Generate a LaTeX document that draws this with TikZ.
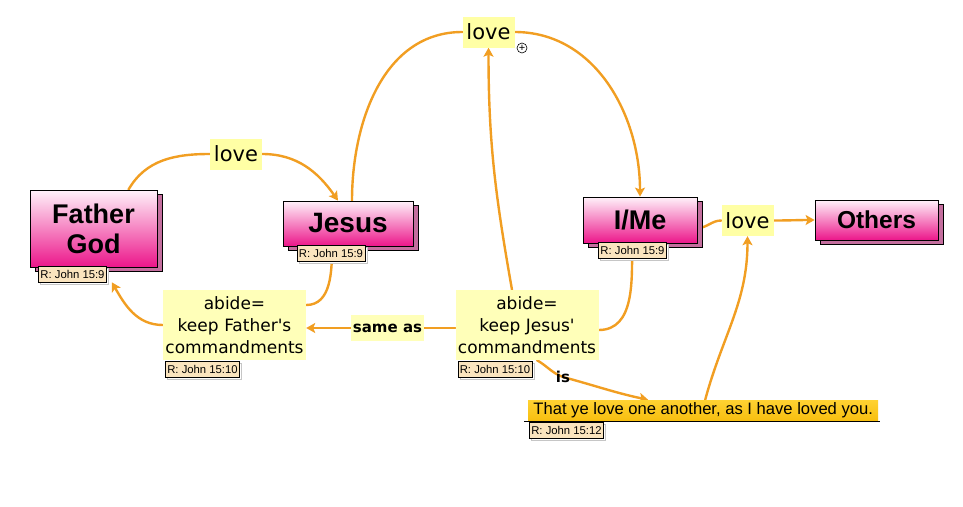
\documentclass[tikz,border=0pt]{standalone}
\usepackage{fontspec}
\setmainfont{Liberation Sans}
\newfontfamily\vfont{DejaVu Sans}
\usetikzlibrary{arrows.meta,shadows,backgrounds}
\definecolor{conncol}{RGB}{241,158,34}
\definecolor{pinktop}{RGB}{255,242,250}
\definecolor{pinkbot}{RGB}{236,22,138}
\definecolor{shadowpink}{RGB}{196,110,158}
\definecolor{loveY}{RGB}{255,255,165}
\definecolor{abY}{RGB}{255,255,185}
\definecolor{tagc}{RGB}{250,228,190}
\definecolor{goldtop}{RGB}{255,210,50}
\definecolor{goldbot}{RGB}{247,190,15}
\tikzset{
  conc/.style={draw=black, line width=0.8pt, top color=pinktop, bottom color=pinkbot,
    copy shadow={shadow xshift=5pt, shadow yshift=-4pt, fill=shadowpink, draw=black, line width=0.6pt},
    font=\bfseries\fontsize{27}{30}\selectfont, align=center, inner sep=2pt},
  lovebox/.style={fill=loveY, font=\vfont\fontsize{21}{24}\selectfont, minimum width=52pt, minimum height=31pt, inner sep=2pt},
  abbox/.style={fill=abY, font=\vfont\fontsize{17}{22}\selectfont, text width=140pt, align=center, minimum height=70pt, inner sep=1.5pt},
  tagbox/.style={draw=black, line width=0.6pt, fill=tagc, font=\fontsize{11.3}{13}\selectfont, minimum height=16pt, inner xsep=2pt, inner ysep=1pt,
    copy shadow={shadow xshift=2pt, shadow yshift=-2pt, fill=white, draw=gray!45, line width=0.5pt}},
  conn/.style={draw=conncol, line width=2.4pt, -, line cap=round},
  arr/.style={-{Stealth[length=9pt,width=10pt,inset=2pt]}},
}
\begin{document}
\begin{tikzpicture}[x=1pt,y=-1pt]
\useasboundingbox (0,0) rectangle (963,506);
% concepts
\node[conc, minimum width=127pt, minimum height=77pt] (fg) at (93.5,228.5) {Father\\God};
\node[conc, minimum width=130pt, minimum height=45pt, font=\bfseries\fontsize{28}{30}\selectfont] (jesus) at (348,223.5) {Jesus};
\node[conc, minimum width=114pt, minimum height=46pt] (ime) at (640,220) {I/Me};
\node[conc, minimum width=123pt, minimum height=40pt, font=\bfseries\fontsize{24.5}{27}\selectfont] (others) at (876.5,220) {Others};
% labels
\node[lovebox] (loveT) at (488.5,32) {love};
\node[lovebox] (loveL) at (236,154) {love};
\node[lovebox] (loveR) at (747.5,220.5) {love};
\node[abbox, minimum width=143pt] (abL) at (234.5,325) {abide=\\keep Father's\\commandments};
\node[abbox, minimum width=142pt] (abR) at (527,325) {abide=\\keep Jesus'\\commandments};
\node[fill=abY, font=\vfont\bfseries\fontsize{15}{18}\selectfont, minimum height=26pt, inner sep=2pt] (sameas) at (387.5,328) {same as};
\node[font=\vfont\bfseries\fontsize{15}{18}\selectfont, inner sep=1pt] (is) at (563,377) {is};
\node[top color=goldtop, bottom color=goldbot, font=\fontsize{16.6}{19}\selectfont, minimum height=21pt, minimum width=350pt, anchor=west, inner xsep=2pt, inner ysep=0pt] (thatye) at (528,410.5) {That ye love one another, as I have loved you.};
\draw[black, line width=0.8pt] ([xshift=-4pt]thatye.south west) -- ([xshift=2pt]thatye.south east);
% tags
\node[tagbox] (fgtag) at (72.5,274) {R: John 15:9};
\node[tagbox] (jtag) at (331,253.5) {R: John 15:9};
\node[tagbox] (imetag) at (632.5,250) {R: John 15:9};
\node[tagbox] (abLtag) at (202.5,369) {R: John 15:10};
\node[tagbox] (abRtag) at (495,369) {R: John 15:10};
\node[tagbox] (tytag) at (566.5,430) {R: John 15:12};
% plus symbol
\node[draw=black, circle, line width=0.6pt, minimum size=10pt, inner sep=0pt, font=\fontsize{11}{11}\selectfont] (plus) at (522,48) {+};
% connectors
\begin{scope}[on background layer]
\draw[conn] ([xshift=35pt]fg.north) to[out=60,in=180] (loveL.west);
\draw[conn,arr] (loveL.east) to[out=0,in=125] ([xshift=-10pt]jesus.north);
\draw[conn] ([xshift=4pt]jesus.north) to[out=90,in=180] (loveT.west);
\draw[conn,arr] (loveT.east) to[out=0,in=90] (ime.north);
\draw[conn] ([xshift=-8pt]ime.south) to[out=-90,in=0] ([yshift=-5pt]abR.east);
\draw[conn,arr] ([xshift=-15pt]abR.north) to[out=100,in=-90] (loveT.south);
\draw[conn] ([xshift=-16pt]jesus.south) to[out=-90,in=0] ([yshift=20pt]abL.east);
\draw[conn,arr] (abL.west) to[out=180,in=-60] ([xshift=5pt]fgtag.south east);
\draw[conn] ([yshift=-3pt]abR.west) -- (sameas.east);
\draw[conn,arr] (sameas.west) -- ([yshift=-3pt]abL.east);
\draw[conn,arr] ([xshift=10pt]abR.south) to[out=-30,in=160] (is.center) to[out=-15,in=168] ([xshift=-55pt]thatye.north);
\draw[conn,arr] ([xshift=2pt]thatye.north) to[out=75,in=-90] (loveR.south);
\draw[conn] ([yshift=-8pt]ime.east) to[out=0,in=180] (loveR.west);
\draw[conn,arr] (loveR.east) to[out=0,in=180] (others.west);
\end{scope}
\end{tikzpicture}
\end{document}
